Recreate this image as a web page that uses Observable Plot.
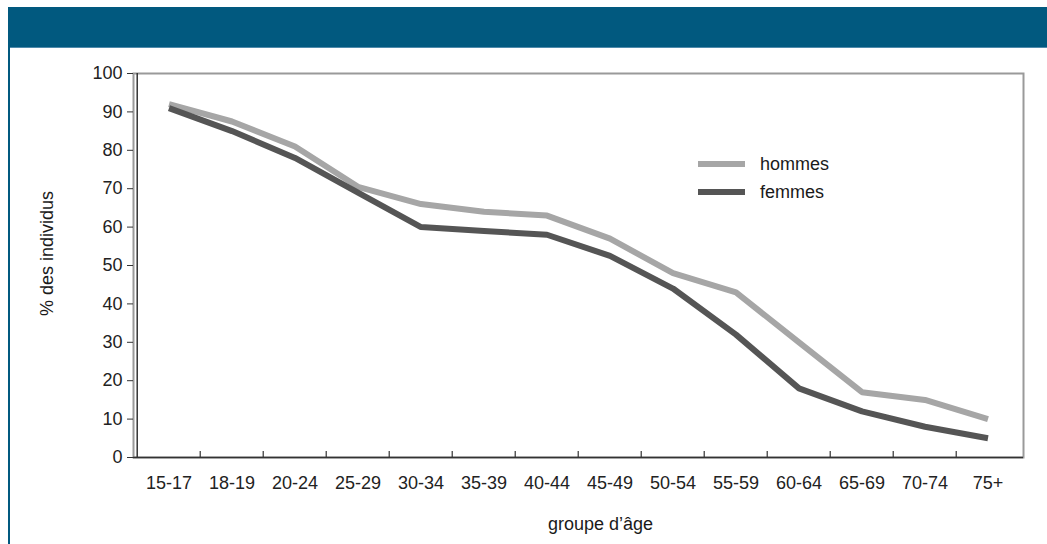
<!DOCTYPE html>
<html>
<head>
<meta charset="utf-8">
<script src="https://cdn.jsdelivr.net/npm/d3@7"></script>
<script src="https://cdn.jsdelivr.net/npm/@observablehq/plot@0.6"></script>
<style>
  html, body { margin: 0; padding: 0; background: #fff; }
  body { position: relative; width: 1047px; height: 544px; overflow: hidden; font-family: "Liberation Sans", Arial, sans-serif; }
  #band { position: absolute; left: 8px; top: 7px; right: 0; height: 40px; background: #01597f; border-bottom: 1px solid #4f8aab; }
  #rail { position: absolute; left: 8px; top: 7px; width: 2px; height: 537px; background: #01597f; }
  #chart { position: absolute; left: 0; top: 48px; }
  #legend { position: absolute; left: 698px; top: 150px; font-family: "Liberation Sans", Arial, sans-serif; font-size: 18px; color: #1a1a1a; }
  .item { display: flex; align-items: center; height: 28px; }
  .swatch { width: 47px; height: 6px; margin-right: 15px; }
</style>
</head>
<body>
<div id="band"></div>
<div id="rail"></div>
<div id="chart"></div>
<div id="legend"></div>
<script>
// Age groups along the horizontal axis
const categories = ["15-17", "18-19", "20-24", "25-29", "30-34", "35-39", "40-44",
                    "45-49", "50-54", "55-59", "60-64", "65-69", "70-74", "75+"];
// Share of individuals (%) per age group
const hommes = [92, 87.5, 81, 70.5, 66, 64, 63, 57, 48, 43, 30, 17, 15, 10];
const femmes = [91, 85, 78, 69, 60, 59, 58, 52.5, 44, 32, 18, 12, 8, 5];
const seriesNames = ["hommes", "femmes"];
const seriesColors = ["#a6a6a6", "#555555"];
const yTicks = [0, 10, 20, 30, 40, 50, 60, 70, 80, 90, 100];
const xTitle = "groupe d’âge";
const yTitle = "% des individus";

const rows = [
  ...categories.map((age, i) => ({age, sexe: seriesNames[0], value: hommes[i]})),
  ...categories.map((age, i) => ({age, sexe: seriesNames[1], value: femmes[i]}))
];

const W = 1047, H = 496;
const mL = 133, mR = 24, mT = 25, mB = 87;
const bw = (W - mL - mR) / categories.length;
const frameH = H - mT - mB;
const font = "'Liberation Sans', Arial, sans-serif";

const chart = Plot.plot({
  width: W,
  height: H,
  marginLeft: mL,
  marginRight: mR,
  marginTop: mT,
  marginBottom: mB,
  style: {fontFamily: font, fontSize: "18px", color: "#222", background: "transparent"},
  x: {type: "band", domain: categories, padding: 0, label: null},
  y: {domain: [0, 100], label: null},
  color: {domain: seriesNames, range: seriesColors},
  marks: [
    Plot.frame({stroke: "#9a9a9a", strokeWidth: 2}),
    Plot.ruleY([0], {stroke: "#333", strokeWidth: 1.5}),
    Plot.ruleX([categories[0]], {dx: -bw / 2, stroke: "#333", strokeWidth: 1.5}),
    // inward ticks on the category boundaries
    Plot.ruleX(categories.slice(1), {dx: -bw / 2, insetTop: frameH - 6, stroke: "#333", strokeWidth: 1.2}),
    Plot.axisX({tickSize: 0, tickPadding: 19, fontSize: 18, label: null}),
    Plot.axisY({ticks: yTicks, tickSize: 6, tickPadding: 5, fontSize: 18, stroke: "#333", label: null}),
    Plot.line(rows, {x: "age", y: "value", z: "sexe", stroke: "sexe", strokeWidth: 6,
                     strokeLinejoin: "miter", strokeLinecap: "butt"}),
    Plot.text([xTitle], {frameAnchor: "bottom", textAnchor: "middle", dy: 72, dx: 22, fontSize: 18, fontFamily: font, fill: "#1a1a1a"}),
    Plot.text([yTitle], {frameAnchor: "left", textAnchor: "middle", rotate: -90, dx: -86, dy: -12, fontSize: 18, fontFamily: font, fill: "#1a1a1a"})
  ]
});
document.getElementById("chart").appendChild(chart);

// Legend drawn from the same series names and colours
const legend = document.getElementById("legend");
seriesNames.forEach((name, i) => {
  const item = document.createElement("div");
  item.className = "item";
  const sw = document.createElement("span");
  sw.className = "swatch";
  sw.style.background = seriesColors[i];
  const label = document.createElement("span");
  label.textContent = name;
  item.appendChild(sw);
  item.appendChild(label);
  legend.appendChild(item);
});
</script>
</body>
</html>
